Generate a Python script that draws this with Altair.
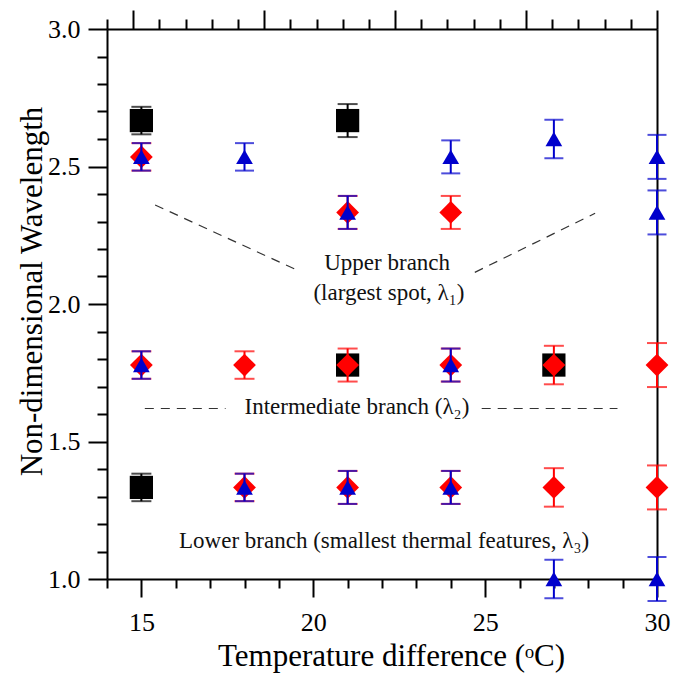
import altair as alt
import pandas as pd

FONT = "'Liberation Serif', 'Times New Roman', Times, serif"

# ---- data ----
black_x = [15, 21, 15, 21, 27]
black_y = [2.667, 2.667, 1.333, 1.778, 1.778]
black_err = [0.05, 0.06, 0.05, 0.0, 0.0]

red_x = [15, 21, 24, 15, 18, 21, 24, 27, 30, 18, 21, 24, 27, 30]
red_y = [2.535, 2.333, 2.333, 1.778, 1.778, 1.778, 1.778, 1.778, 1.778,
         1.333, 1.333, 1.333, 1.333, 1.333]
red_err = [0.05, 0.06, 0.06, 0.05, 0.05, 0.06, 0.06, 0.07, 0.08,
           0.05, 0.06, 0.06, 0.07, 0.08]

blue_x = [15, 18, 21, 24, 27, 30, 30, 15, 24, 18, 21, 24, 27, 30]
blue_y = [2.535, 2.535, 2.333, 2.535, 2.60, 2.535, 2.333, 1.778, 1.778,
          1.333, 1.333, 1.333, 1.0, 1.0]
blue_err = [0.05, 0.05, 0.06, 0.06, 0.07, 0.08, 0.08, 0.05, 0.06,
            0.05, 0.06, 0.06, 0.07, 0.08]

# dashed guide lines (data coordinates)
dash_x1 = [15.4, 24.7, 15.1, 24.9]
dash_y1 = [2.36, 2.115, 1.62, 1.62]
dash_x2 = [19.5, 28.2, 17.45, 28.85]
dash_y2 = [2.125, 2.33, 1.62, 1.62]

note_text = ["Upper branch", "(largest spot, \u03bb\u2081)",
             "Intermediate branch (\u03bb\u2082)",
             "Lower branch (smallest thermal features, \u03bb\u2083)"]
note_x = [22.15, 22.2, 21.27, 22.06]
note_y = [2.15, 2.04, 1.625, 1.14]

x_ticks = list(range(14, 31))
y_ticks = [round(1.0 + 0.1 * i, 1) for i in range(21)]
top_ticks = list(range(-1, 21))


def frame(xs, ys, es):
    df = pd.DataFrame({"x": xs, "y": ys, "e": es})
    df["lo"] = df["y"] - df["e"]
    df["hi"] = df["y"] + df["e"]
    return df


black = frame(black_x, black_y, black_err)
red = frame(red_x, red_y, red_err)
blue = frame(blue_x, blue_y, blue_err)
dashes = pd.DataFrame({"x": dash_x1, "y": dash_y1, "x2": dash_x2, "y2": dash_y2})
notes = pd.DataFrame({"x": note_x, "y": note_y, "t": note_text})

xscale = alt.Scale(domain=[14, 30], nice=False, zero=False)
yscale = alt.Scale(domain=[1.0, 3.0], nice=False, zero=False)

x_axis = alt.Axis(
    values=x_ticks,
    labelExpr="datum.value % 5 == 0 ? datum.label : ''",
    tickSize={"condition": {"test": "datum.value % 5 == 0", "value": 18}, "value": 9},
    labelOverlap=False, labelFlush=False,
    labelFont=FONT, labelFontSize=26, labelColor="black", labelPadding=12,
    title="Temperature difference (\u1d52C)",
    titleFont=FONT, titleFontSize=31, titleFontWeight="normal", titleColor="black",
    titleX=284, titleY=86, titleBaseline="alphabetic", titleAlign="center",
    domainColor="black", domainWidth=2, tickColor="black", tickWidth=2,
    grid=False,
)
y_axis = alt.Axis(
    values=y_ticks,
    labelExpr="abs(datum.value*2 - round(datum.value*2)) < 0.001 ? format(datum.value, '.1f') : ''",
    tickSize={"condition": {"test": "abs(datum.value*2 - round(datum.value*2)) < 0.001",
                            "value": 19}, "value": 10},
    labelOverlap=False, labelFlush=False,
    labelFont=FONT, labelFontSize=26, labelColor="black", labelPadding=8,
    title="Non-dimensional Wavelength",
    titleFont=FONT, titleFontSize=31, titleFontWeight="normal", titleColor="black",
    titleAngle=-90, titleX=-66, titleY=262, titleBaseline="alphabetic", titleAlign="center",
    domainColor="black", domainWidth=2, tickColor="black", tickWidth=2,
    grid=False,
)
top_axis = alt.Axis(
    orient="top", values=top_ticks, labels=False, title=None,
    tickSize={"condition": {"test": "datum.value % 5 == 0", "value": 19}, "value": 10},
    domainColor="black", domainWidth=2, tickColor="black", tickWidth=2, grid=False,
)
right_axis = alt.Axis(
    orient="right", labels=False, ticks=False, title=None,
    domainColor="black", domainWidth=2, grid=False,
)

X = alt.X("x:Q", scale=xscale, axis=x_axis)
Y = alt.Y("y:Q", scale=yscale, axis=y_axis)


def series(df, color, shape, size, cap):
    errs = df[df["e"] > 0]
    base = alt.Chart(errs)
    rule = base.mark_rule(color=color, strokeWidth=2).encode(
        x=X, y=alt.Y("lo:Q", scale=yscale, axis=y_axis), y2="hi:Q")
    cap_lo = base.mark_tick(color=color, orient="horizontal", size=cap, thickness=2).encode(
        x=X, y=alt.Y("lo:Q", scale=yscale, axis=y_axis))
    cap_hi = base.mark_tick(color=color, orient="horizontal", size=cap, thickness=2).encode(
        x=X, y=alt.Y("hi:Q", scale=yscale, axis=y_axis))
    pts = alt.Chart(df).mark_point(shape=shape, filled=True, fill=color, color=color,
                                   size=size, opacity=1, strokeWidth=0).encode(x=X, y=Y)
    return [rule, cap_lo, cap_hi, pts]


dash_layer = alt.Chart(dashes).mark_rule(color="#333333", strokeWidth=1.2,
                                         strokeDash=[9, 7]).encode(
    x=X, y=Y, x2="x2:Q", y2="y2:Q")
note_layer = alt.Chart(notes).mark_text(font=FONT, fontSize=23, color="#111111",
                                        align="center", baseline="middle").encode(
    x=X, y=Y, text="t:N")

main = alt.layer(
    dash_layer, note_layer,
    *series(black, "black", "square", 540, 20),
    *series(red, "#ff0000", "diamond", 520, 20),
    *series(blue, "#0000cc", "triangle-up", 280, 19),
)

frame_df = pd.DataFrame({"t": [0], "v": [2.0]})
frame_layer = alt.Chart(frame_df).mark_point(opacity=0).encode(
    x=alt.X("t:Q", scale=alt.Scale(domain=[-1, 20], nice=False, zero=False), axis=top_axis),
    y=alt.Y("v:Q", scale=yscale, axis=right_axis),
)

chart = alt.layer(frame_layer, main).resolve_scale(x="independent", y="independent").properties(
    width=550, height=550,
    autosize=alt.AutoSizeParams(type="none"),
    padding={"left": 107, "top": 29, "right": 16, "bottom": 95},
).configure_view(strokeWidth=0).configure(background="white")

chart.save("out.html", embed_options={"renderer": "svg", "actions": False})
